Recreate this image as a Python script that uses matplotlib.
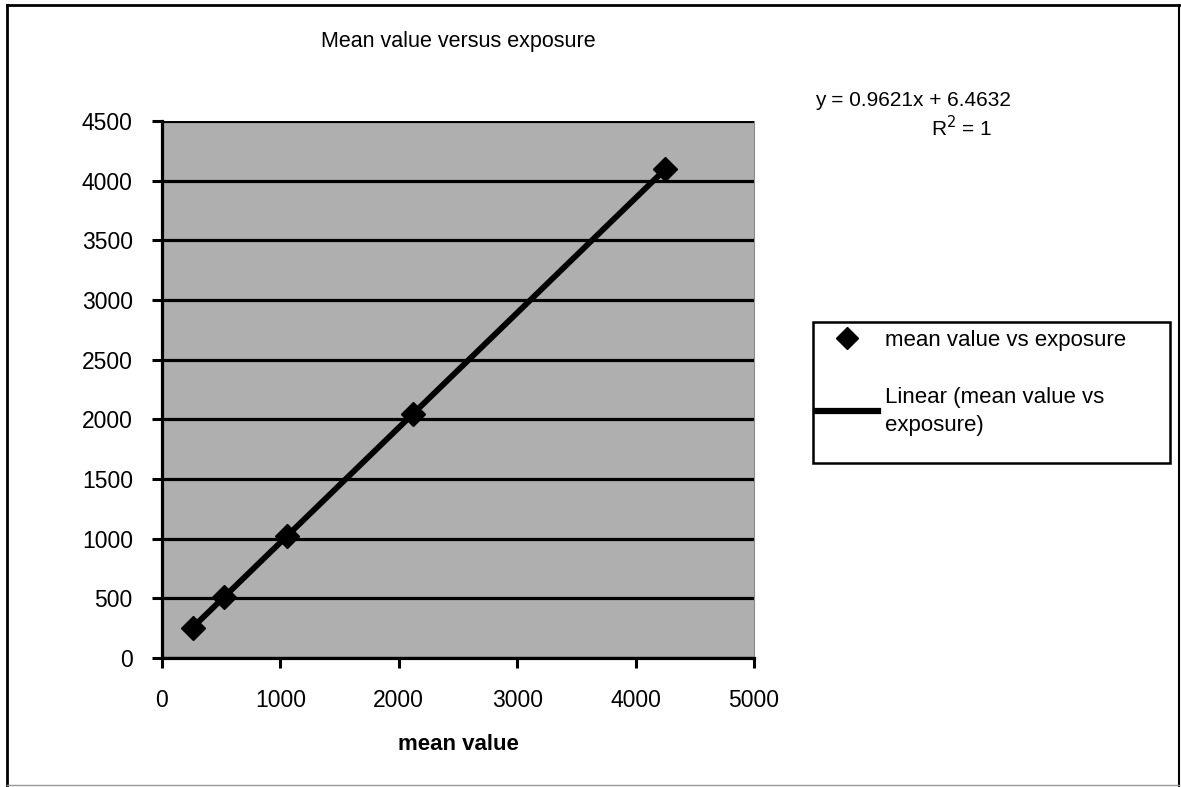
import matplotlib.pyplot as plt
from matplotlib.lines import Line2D
from matplotlib.patches import Rectangle

plt.rcParams['font.family'] = ['Liberation Sans', 'DejaVu Sans']

# data
mean_value = [258, 524, 1057, 2121, 4250]
exposure = [255, 511, 1023, 2047, 4095]
slope = 0.9621
intercept = 6.4632

x_ticks = [0, 1000, 2000, 3000, 4000, 5000]
y_ticks = [0, 500, 1000, 1500, 2000, 2500, 3000, 3500, 4000, 4500]

W, H = 1181, 787
fig = plt.figure(figsize=(W / 100, H / 100), dpi=100)
ax = fig.add_axes([162 / W, 1 - 658 / H, (754 - 162) / W, (658 - 121) / H])

ax.set_facecolor('#afafaf')

# trend line
fit_x = [min(mean_value), max(mean_value)]
fit_y = [slope * v + intercept for v in fit_x]
ax.plot(fit_x, fit_y, color='black', linewidth=4.2, zorder=3,
        solid_capstyle='butt')
ax.plot(mean_value, exposure, linestyle='none', marker='D', markersize=12,
        color='black', zorder=4)

ax.set_xlim(0, 5000)
ax.set_ylim(0, 4500)
ax.set_xticks(x_ticks)
ax.set_yticks(y_ticks)
ax.tick_params(axis='both', labelsize=16.5, width=2.2, length=7, color='black')
ax.tick_params(axis='y', pad=14)
ax.tick_params(axis='x', pad=15)
ax.grid(True, axis='y', color='black', linewidth=2.3)
ax.set_axisbelow(False)

for side in ['left', 'bottom']:
    ax.spines[side].set_linewidth(2.3)
ax.spines['top'].set_visible(False)
ax.spines['right'].set_color('#8a8a8a')
ax.spines['right'].set_linewidth(0.8)

ax.set_xlabel('mean value', fontsize=16, fontweight='bold', labelpad=16)

fig.text(458 / W, 1 - 42 / H, 'Mean value versus exposure', fontsize=15.5,
         ha='center', va='center')
fig.text(913 / W, 1 - 100 / H, 'y = 0.9621x + 6.4632', fontsize=15,
         ha='center', va='center')
fig.text(962 / W, 1 - 128 / H, r'R$^2$ = 1', fontsize=15,
         ha='center', va='center')

# legend box drawn separately (Excel style, wide right margin)
fig.patches.append(Rectangle((813 / W, 1 - 463 / H), (1170 - 813) / W,
                             (463 - 322) / H, transform=fig.transFigure,
                             fill=True, facecolor='white', edgecolor='black',
                             linewidth=1.8, zorder=1))

handles = [
    Line2D([], [], linestyle='none', marker='D', markersize=11, color='black'),
    Line2D([], [], color='black', linewidth=4.5),
]
labels = ['mean value vs exposure', 'Linear (mean value vs\nexposure)']
leg = fig.legend(handles, labels, loc='upper left',
                 bbox_to_anchor=(816 / W, 1 - 330 / H),
                 fontsize=16, frameon=False,
                 borderpad=0, labelspacing=1.6, handlelength=2.8,
                 handletextpad=0.3, borderaxespad=0)
leg.get_texts()[1].set_linespacing(1.45)
leg.set_zorder(2)

# outer border of the chart
fig.add_artist(Line2D([7 / W, 7 / W], [1 - 786 / H, 1 - 5 / H], color='black',
                      linewidth=2, transform=fig.transFigure))
fig.add_artist(Line2D([7 / W, 1179 / W], [1 - 5 / H, 1 - 5 / H], color='black',
                      linewidth=2, transform=fig.transFigure))
fig.add_artist(Line2D([1179 / W, 1179 / W], [1 - 786 / H, 1 - 5 / H],
                      color='black', linewidth=1.5, transform=fig.transFigure))
fig.add_artist(Line2D([7 / W, 1179 / W], [1 - 785 / H, 1 - 785 / H],
                      color='#999999', linewidth=1, transform=fig.transFigure))

fig.savefig('out.png', dpi=100)
